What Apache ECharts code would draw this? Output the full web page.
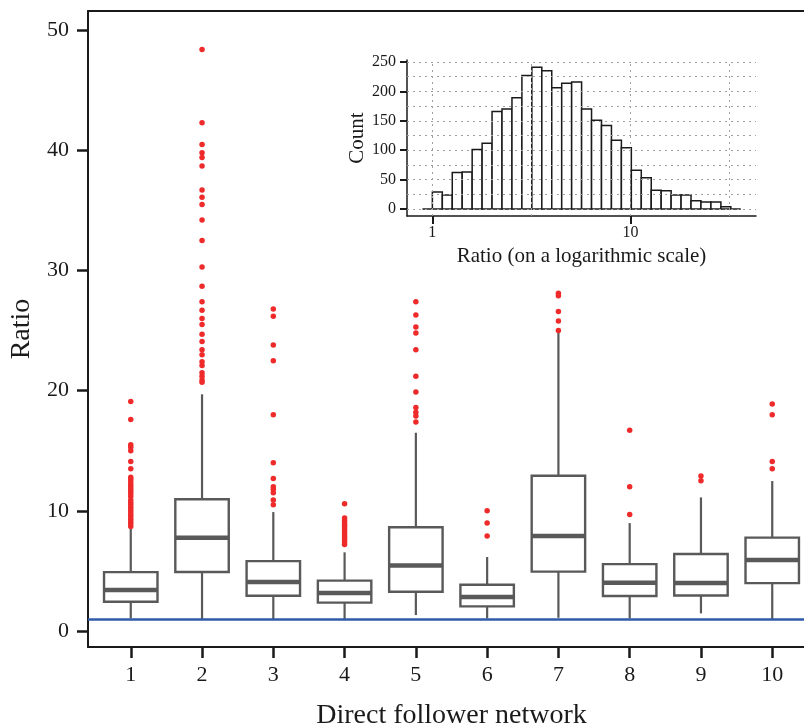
<!DOCTYPE html>
<html>
<head>
<meta charset="utf-8">
<script src="https://cdn.jsdelivr.net/npm/echarts@6/dist/echarts.min.js"></script>
<style>
  html, body { margin: 0; padding: 0; background: #fff; }
  #chart { width: 804px; height: 727px; }
</style>
</head>
<body>
<div id="chart"></div>
<script>
// main panel: one box per direct follower network
const networks = ['1', '2', '3', '4', '5', '6', '7', '8', '9', '10'];
const whiskerLow = [1.05, 1.0, 1.0, 1.0, 1.33, 1.05, 1.1, 1.05, 1.47, 1.0];
const q1 = [2.44, 4.91, 2.94, 2.36, 3.27, 2.05, 4.94, 2.91, 2.96, 3.99];
const median = [3.41, 7.77, 4.08, 3.16, 5.46, 2.83, 7.9, 4.02, 3.99, 5.91];
const q3 = [4.9, 10.96, 5.82, 4.19, 8.63, 3.85, 12.92, 5.57, 6.41, 7.77];
const whiskerHigh = [8.5, 19.7, 9.9, 6.55, 16.5, 6.16, 24.9, 8.98, 11.12, 12.48];
const outliers = [
  [19.1, 17.6, 15.5, 15.3, 15.0, 14.1, 13.5, 12.8, 12.6, 12.4, 12.2, 12.0, 11.8, 11.6, 11.4, 11.2, 10.9, 10.7, 10.5, 10.3, 10.1, 9.9, 9.7, 9.5, 9.3, 9.1, 8.9, 8.7],
  [48.4, 42.3, 40.5, 39.8, 39.4, 38.7, 36.7, 36.1, 35.5, 34.2, 32.5, 30.3, 28.7, 27.4, 26.7, 26.0, 25.5, 24.7, 24.1, 23.4, 23.0, 22.4, 22.1, 21.5, 21.2, 20.9, 20.7],
  [26.8, 26.2, 23.8, 22.5, 18.0, 14.0, 12.7, 12.0, 11.8, 11.5, 10.9, 10.5],
  [10.6, 9.4, 9.2, 9.0, 8.8, 8.6, 8.4, 8.2, 8.0, 7.8, 7.6, 7.4, 7.2],
  [27.4, 26.3, 25.3, 24.8, 23.4, 21.2, 19.9, 18.6, 18.2, 17.9, 17.4],
  [10.0, 9.0, 7.9],
  [28.1, 27.9, 26.6, 25.8, 25.0],
  [16.7, 12.0, 9.7],
  [12.9, 12.5],
  [18.9, 18.0, 14.1, 13.5]
];
const refRatio = 1;
const yTicks = [0, 10, 20, 30, 40, 50];

// inset: histogram of ratios, binned on log10 scale
const histCounts = [0, 29, 24, 62, 63, 101, 112, 166, 170, 189, 227, 241, 235, 206, 214, 216,
  170, 151, 142, 117, 104, 66, 53, 32, 31, 24, 24, 14, 12, 12, 4, 0];
const histStart = -0.0502;   // log10 of lower edge of first bin
const histBinWidth = 0.0502;
const histXTicks = [0, 1];   // log10(1), log10(10)
const histXGrid = [0, 0.5, 1, 1.5];
const histYTicks = [0, 50, 100, 150, 200, 250];
const histYGrid = [0, 25, 50, 75, 100, 125, 150, 175, 200, 225, 250];

const FONT = "'Liberation Serif', 'Times New Roman', serif";
const INK = '#1a1a1a';
const BOX = '#595959';

const xTicks = networks.map((n, i) => i + 1);
const boxData = networks.map((n, i) => [i + 1, whiskerLow[i], q1[i], median[i], q3[i], whiskerHigh[i]]);
const outlierData = [];
outliers.forEach((vals, i) => vals.forEach(v => outlierData.push([i + 1, v])));
const histData = histCounts.map((c, i) => [histStart + i * histBinWidth, histStart + (i + 1) * histBinWidth, c]);

const boxHalf = 0.375;

function renderBox(params, api) {
  const x = api.value(0);
  const pLow = api.coord([x, api.value(1)]);
  const pQ1 = api.coord([x, api.value(2)]);
  const pMed = api.coord([x, api.value(3)]);
  const pQ3 = api.coord([x, api.value(4)]);
  const pHigh = api.coord([x, api.value(5)]);
  const left = api.coord([x - boxHalf, 0])[0];
  const right = api.coord([x + boxHalf, 0])[0];
  return {
    type: 'group',
    children: [
      { type: 'line', shape: { x1: pLow[0], y1: pLow[1], x2: pQ1[0], y2: pQ1[1] }, style: { stroke: BOX, lineWidth: 2.2 } },
      { type: 'line', shape: { x1: pQ3[0], y1: pQ3[1], x2: pHigh[0], y2: pHigh[1] }, style: { stroke: BOX, lineWidth: 2.2 } },
      { type: 'rect', shape: { x: left, y: pQ3[1], width: right - left, height: pQ1[1] - pQ3[1] }, style: { fill: '#fff', stroke: BOX, lineWidth: 2.4 } },
      { type: 'line', shape: { x1: left, y1: pMed[1], x2: right, y2: pMed[1] }, style: { stroke: BOX, lineWidth: 4.5 } }
    ]
  };
}

function renderBin(params, api) {
  const p0 = api.coord([api.value(0), 0]);
  const p1 = api.coord([api.value(1), api.value(2)]);
  if (api.value(2) === 0) {
    return { type: 'line', shape: { x1: p0[0], y1: p0[1], x2: p1[0], y2: p0[1] }, style: { stroke: INK, lineWidth: 1.5 } };
  }
  return {
    type: 'rect',
    shape: { x: p0[0], y: p1[1], width: p1[0] - p0[0], height: p0[1] - p1[1] },
    style: { fill: '#fff', stroke: INK, lineWidth: 1.5 }
  };
}

const option = {
  animation: false,
  backgroundColor: '#fff',
  textStyle: { fontFamily: FONT },
  grid: [
    { left: 88, right: -11, top: 11, bottom: 80, outerBoundsMode: 'none' },
    { left: 407, top: 60, width: 349, height: 156, outerBoundsMode: 'none' }
  ],
  xAxis: [
    {
      gridIndex: 0, type: 'value', min: 0.4, max: 10.6, position: 'bottom',
      name: 'Direct follower network', nameLocation: 'middle', nameGap: 55,
      nameTextStyle: { fontFamily: FONT, fontSize: 28, color: INK },
      axisLine: { show: true, onZero: false, lineStyle: { color: INK, width: 2 } },
      axisTick: { show: true, customValues: xTicks, length: 11, lineStyle: { color: INK, width: 2.5 } },
      axisLabel: { customValues: xTicks, formatter: v => networks[v - 1], fontFamily: FONT, fontSize: 22, color: INK, margin: 17 },
      splitLine: { show: false }
    },
    {
      gridIndex: 0, type: 'value', min: 0.4, max: 10.6, position: 'top',
      axisLine: { show: true, onZero: false, lineStyle: { color: INK, width: 2 } },
      axisTick: { show: false }, axisLabel: { show: false }, splitLine: { show: false }
    },
    {
      gridIndex: 1, type: 'value', min: -0.128, max: 1.633,
      name: 'Ratio (on a logarithmic scale)', nameLocation: 'middle', nameGap: 30,
      nameTextStyle: { fontFamily: FONT, fontSize: 21, color: INK },
      axisLine: { show: true, onZero: false, lineStyle: { color: INK, width: 1.5 } },
      axisTick: { show: true, customValues: histXTicks, length: 8, lineStyle: { color: INK, width: 2 } },
      axisLabel: { customValues: histXTicks, formatter: v => String(Math.round(Math.pow(10, v))), fontFamily: FONT, fontSize: 16, color: INK, margin: 9 },
      splitLine: { show: false }
    }
  ],
  yAxis: [
    {
      gridIndex: 0, type: 'value', min: -1.33, max: 51.6,
      name: 'Ratio', nameLocation: 'middle', nameGap: 39, nameRotate: 90,
      nameTextStyle: { fontFamily: FONT, fontSize: 28, color: INK },
      axisLine: { show: true, onZero: false, lineStyle: { color: INK, width: 2 } },
      axisTick: { show: true, customValues: yTicks, length: 11, lineStyle: { color: INK, width: 2.5 } },
      axisLabel: { customValues: yTicks, fontFamily: FONT, fontSize: 22, color: INK, margin: 19 },
      splitLine: { show: false }
    },
    {
      gridIndex: 1, type: 'value', min: -11.9, max: 253.4,
      name: 'Count', nameLocation: 'middle', nameGap: 38, nameRotate: 90,
      nameTextStyle: { fontFamily: FONT, fontSize: 21, color: INK },
      axisLine: { show: true, onZero: false, lineStyle: { color: INK, width: 1.5 } },
      axisTick: { show: true, customValues: histYTicks, length: 7, lineStyle: { color: INK, width: 2 } },
      axisLabel: { customValues: histYTicks, fontFamily: FONT, fontSize: 16, color: INK, margin: 11 },
      splitLine: { show: false }
    }
  ],
  series: [
    {
      type: 'custom', name: 'boxes', xAxisIndex: 0, yAxisIndex: 0,
      renderItem: renderBox, data: boxData, encode: { x: 0, y: [1, 2, 3, 4, 5] }, z: 2
    },
    {
      type: 'scatter', name: 'outliers', xAxisIndex: 0, yAxisIndex: 0,
      data: outlierData, symbolSize: 5.5, itemStyle: { color: '#ee2a2a', opacity: 1 }, z: 3,
      markLine: {
        silent: true, symbol: 'none', label: { show: false },
        lineStyle: { color: '#2f5ba8', width: 2.5, type: 'solid' },
        data: [{ yAxis: refRatio }]
      }
    },
    {
      type: 'scatter', name: 'insetGrid', xAxisIndex: 2, yAxisIndex: 1,
      data: [[0, 0]], symbolSize: 0, z: 1,
      markLine: {
        silent: true, symbol: 'none', label: { show: false },
        lineStyle: { color: '#a0a0a0', width: 1, type: [2, 4] },
        data: histXGrid.map(v => ({ xAxis: v })).concat(histYGrid.map(v => ({ yAxis: v })))
      }
    },
    {
      type: 'custom', name: 'histogram', xAxisIndex: 2, yAxisIndex: 1,
      renderItem: renderBin, data: histData, encode: { x: [0, 1], y: 2 }, z: 4
    }
  ]
};

const chart = echarts.init(document.getElementById('chart'));
chart.setOption(option);
</script>
</body>
</html>
